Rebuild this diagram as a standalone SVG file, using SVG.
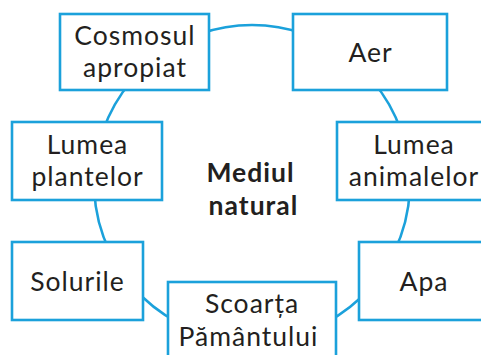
<svg xmlns="http://www.w3.org/2000/svg" width="481" height="355" viewBox="0 0 481 355">
<style>
.box{fill:#ffffff;stroke:#1ba1db;stroke-width:2.6}
.con{fill:none;stroke:#1ba1db;stroke-width:2.6}
.t{font-family:Lato,"Open Sans",sans-serif;font-size:26.5px;letter-spacing:1px;fill:#231f20;text-anchor:middle}
.b{font-weight:bold}
</style>
<rect x="0" y="0" width="481" height="355" fill="#ffffff"/>
<g id="connectors">
<path class="con" d="M200,33.8 A158,158 0 0 1 304,33.8"/>
<path class="con" d="M371.8,80 A158,158 0 0 1 401.5,132"/>
<path class="con" d="M409.8,190 A158,158 0 0 1 394.1,252"/>
<path class="con" d="M370,288.1 A158,158 0 0 1 326,322.6"/>
<path class="con" d="M178,322.6 A158,158 0 0 1 132,285.8"/>
<path class="con" d="M109.9,252 A158,158 0 0 1 94.2,190"/>
<path class="con" d="M102.5,132 A158,158 0 0 1 132.2,80"/>
</g>
<g id="cosmosul">
<rect class="box" x="60" y="14" width="149" height="76"/>
<text class="t" x="135" y="45">Cosmosul</text>
<text class="t" x="135" y="77">apropiat</text>
</g>
<g id="aer">
<rect class="box" x="293" y="14" width="154" height="76"/>
<text class="t" x="370.5" y="62">Aer</text>
</g>
<g id="lumea-plantelor">
<rect class="box" x="12" y="122" width="150" height="78"/>
<text class="t" x="87.5" y="154">Lumea</text>
<text class="t" x="87.5" y="186">plantelor</text>
</g>
<g id="lumea-animalelor">
<rect class="box" x="337" y="122" width="155" height="78"/>
<text class="t" x="414" y="154">Lumea</text>
<text class="t" x="414" y="186">animalelor</text>
</g>
<g id="solurile">
<rect class="box" x="12" y="242" width="131" height="78"/>
<text class="t" x="77.5" y="291">Solurile</text>
</g>
<g id="apa">
<rect class="box" x="359" y="242" width="135" height="78"/>
<text class="t" x="424" y="291">Apa</text>
</g>
<g id="scoarta">
<rect class="box" x="168" y="282" width="168" height="85"/>
<text class="t" x="252" y="313">Scoarța</text>
<text class="t" x="248.5" y="346">Pământului</text>
</g>
<g id="mediul-natural">
<text class="t b" x="250.5" y="182">Mediul</text>
<text class="t b" x="253.5" y="215">natural</text>
</g>
</svg>
